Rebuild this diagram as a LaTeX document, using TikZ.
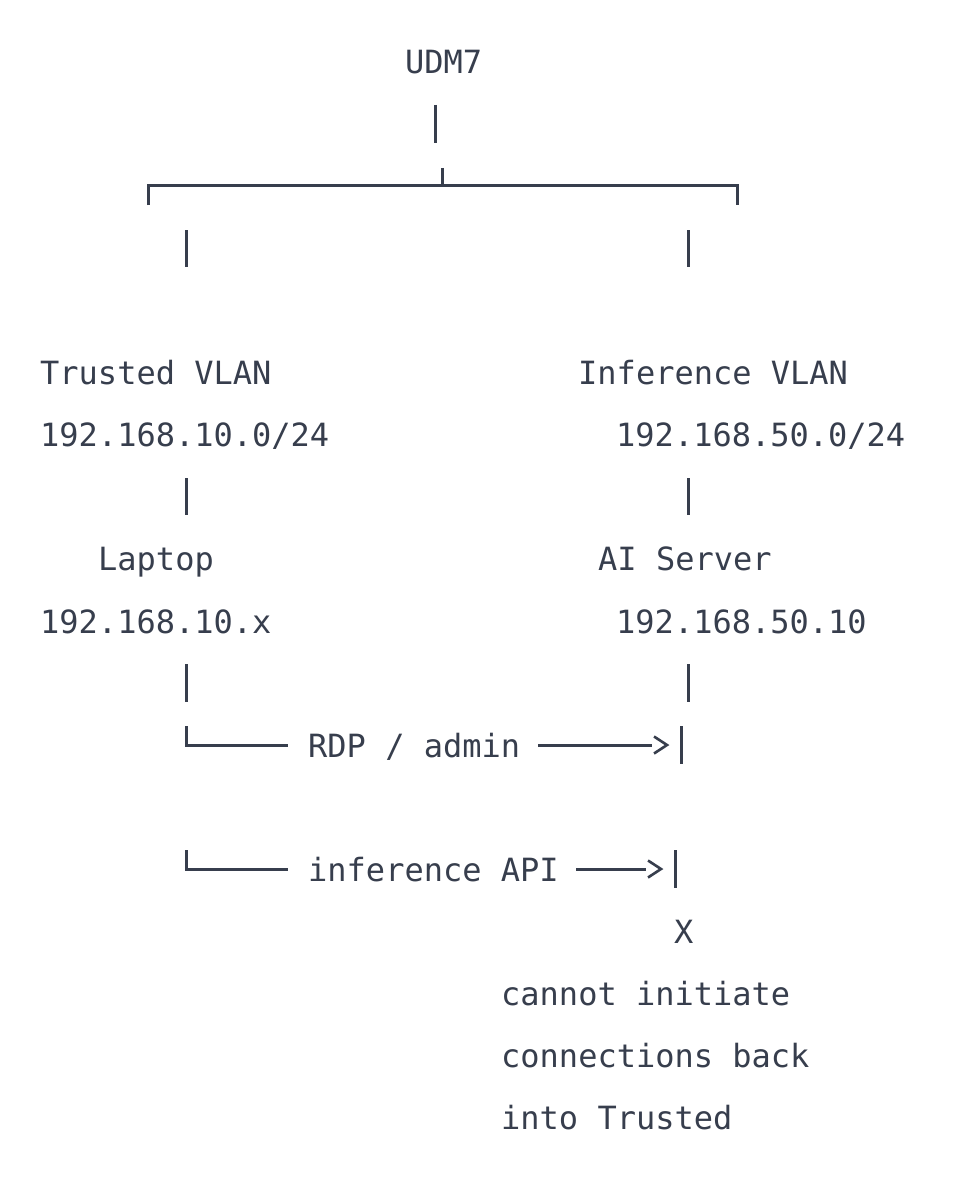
\documentclass[tikz,border=0pt]{standalone}
\usepackage{fontspec}
\setmonofont{DejaVu Sans Mono}
\definecolor{ink}{RGB}{55,62,77}
\begin{document}
\begin{tikzpicture}[x=1pt,y=-1pt,
  lbl/.style={anchor=base west, inner sep=0pt, text=ink, font=\fontsize{32}{38}\selectfont\ttfamily},
  wire/.style={draw=ink, line width=3.0pt},
  chev/.style={draw=ink, line width=2.6pt, line join=miter},
  ]
\useasboundingbox (0,0) rectangle (960,1177);
\fill[white] (0,0) rectangle (960,1177);
% texts
\node[lbl] (udm) at (405,74) {UDM7};
\node[lbl] (tv) at (40,384) {Trusted VLAN};
\node[lbl] (tnet) at (40,446) {192.168.10.0/24};
\node[lbl] (lap) at (98,570) {Laptop};
\node[lbl] (lapip) at (40,633) {192.168.10.x};
\node[lbl] (iv) at (578,384) {Inference VLAN};
\node[lbl] (inet) at (616,446) {192.168.50.0/24};
\node[lbl] (ai) at (598,570) {AI Server};
\node[lbl] (aiip) at (616,633) {192.168.50.10};
\node[lbl] (rdp) at (308,757) {RDP / admin};
\node[lbl] (api) at (308,881) {inference API};
\node[lbl] (xm) at (674,943) {X};
\node[lbl] (n1) at (501,1005) {cannot initiate};
\node[lbl] (n2) at (501,1067) {connections back};
\node[lbl] (n3) at (501,1129) {into Trusted};
% coordinates
\coordinate (u0) at (435,105); \coordinate (u1) at (435,143);
\coordinate (bm) at (442,168); \coordinate (bmj) at (442,186);
\coordinate (bl) at (148,205); \coordinate (br) at (737,205);
\coordinate (l0) at (186,230); \coordinate (l1) at (186,267);
\coordinate (r0) at (688,230); \coordinate (r1) at (688,267);
\coordinate (l2) at (186,478); \coordinate (l3) at (186,515);
\coordinate (r2) at (688,478); \coordinate (r3) at (688,515);
\coordinate (l4) at (186,664); \coordinate (l5) at (186,702);
\coordinate (r4) at (688,664); \coordinate (r5) at (688,702);
\coordinate (c1t) at (186,726); \coordinate (c1e) at (288,745);
\coordinate (a1s) at (538,745); \coordinate (a1e) at (652,745);
\coordinate (h1) at (667,745);
\coordinate (p1t) at (681,726); \coordinate (p1b) at (681,764);
\coordinate (c2t) at (186,850); \coordinate (c2e) at (288,869);
\coordinate (a2s) at (576,869); \coordinate (a2e) at (646,869);
\coordinate (h2) at (661,869);
\coordinate (p2t) at (675,850); \coordinate (p2b) at (675,888);
% lines
\draw[wire] (u0) -- (u1);
\draw[wire] (bm) -- (bmj);
\draw[wire] (bl) |- (bmj) -| (br);
\draw[wire] (l0) -- (l1);
\draw[wire] (r0) -- (r1);
\draw[wire] (l2) -- (l3);
\draw[wire] (r2) -- (r3);
\draw[wire] (l4) -- (l5);
\draw[wire] (r4) -- (r5);
\draw[wire] (c1t) |- (c1e);
\draw[wire] (a1s) -- (a1e);
\draw[chev] ([shift={(-13,-8.5)}]h1) -- (h1) -- ([shift={(-13,8.5)}]h1);
\draw[wire] (p1t) -- (p1b);
\draw[wire] (c2t) |- (c2e);
\draw[wire] (a2s) -- (a2e);
\draw[chev] ([shift={(-13,-8.5)}]h2) -- (h2) -- ([shift={(-13,8.5)}]h2);
\draw[wire] (p2t) -- (p2b);
\end{tikzpicture}
\end{document}
